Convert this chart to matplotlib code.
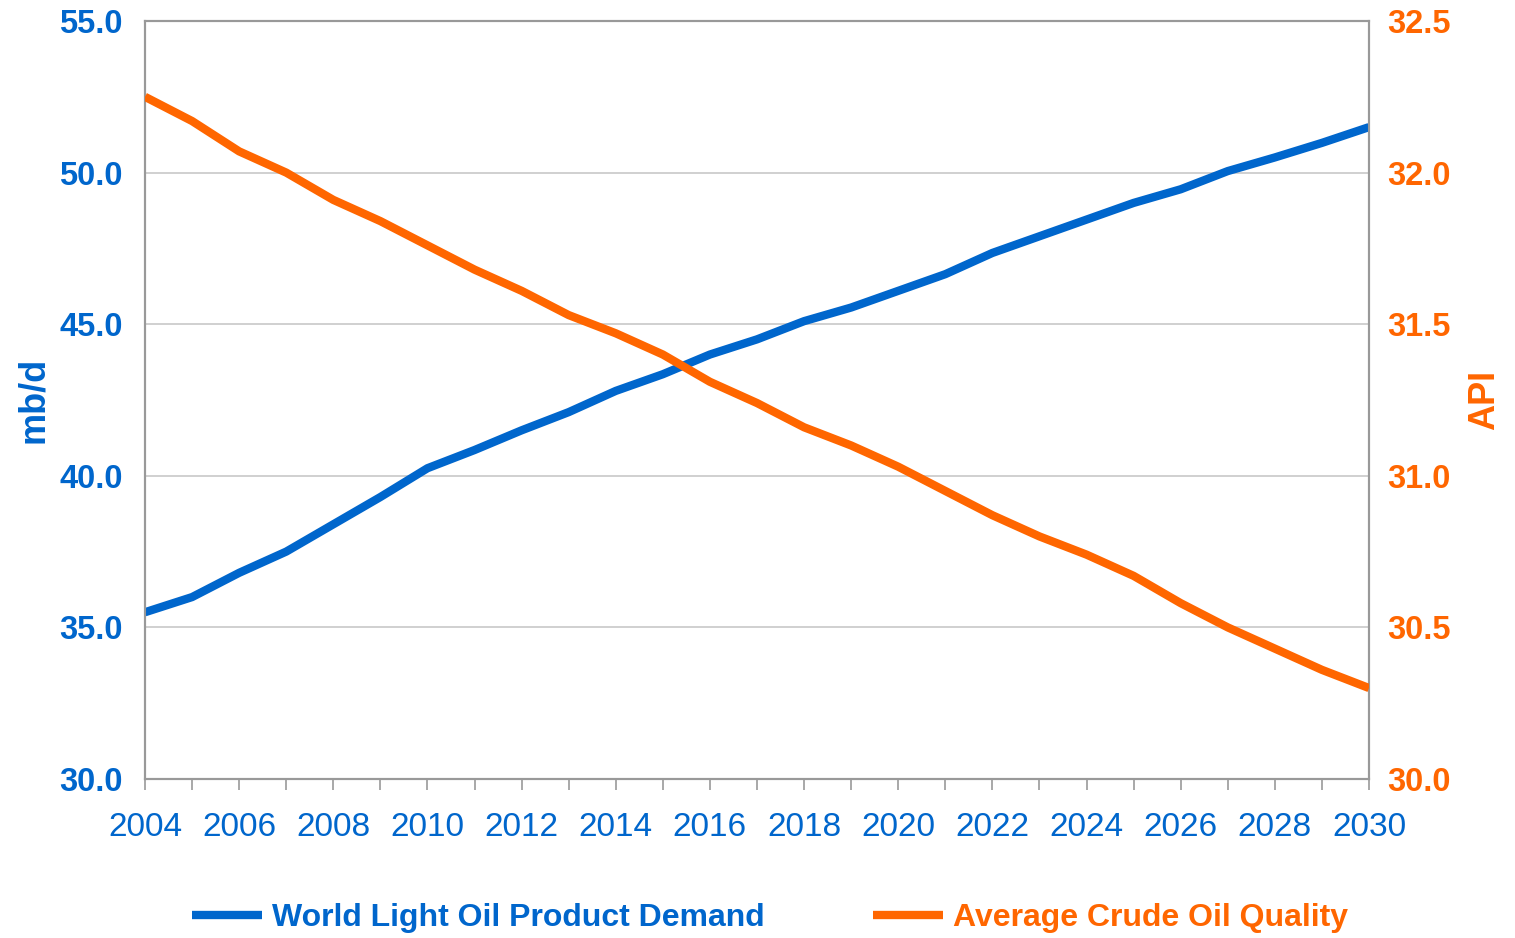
import numpy as np
import matplotlib.pyplot as plt
from matplotlib.ticker import MultipleLocator, FormatStrFormatter

plt.rcParams['font.family'] = ['Liberation Sans', 'DejaVu Sans']

years = list(range(2004, 2031))
demand = [35.5, 36.0, 36.8, 37.5, 38.4, 39.3, 40.25, 40.85, 41.5, 42.1, 42.8, 43.35,
          44.0, 44.5, 45.1, 45.55, 46.1, 46.65, 47.35, 47.9, 48.45, 49.0, 49.45,
          50.05, 50.5, 50.98, 51.5]
api = [32.25, 32.17, 32.07, 32.0, 31.91, 31.84, 31.76, 31.68, 31.61, 31.53, 31.47,
       31.40, 31.31, 31.24, 31.16, 31.10, 31.03, 30.95, 30.87, 30.80, 30.74, 30.67,
       30.58, 30.50, 30.43, 30.36, 30.30]

blue = '#0066CC'
orange = '#FF6600'

fig = plt.figure(figsize=(15.15, 9.38), dpi=100)
ax = fig.add_axes([145 / 1515, 1 - 779 / 938, (1369 - 145) / 1515, (779 - 21) / 938])
ax2 = ax.twinx()

l1, = ax.plot(years, demand, color=blue, lw=6, solid_capstyle='butt', zorder=3)
l2, = ax2.plot(years, api, color=orange, lw=6, solid_capstyle='butt', zorder=3)

ax.set_xlim(2004, 2030)
ax.set_ylim(30, 55)
ax2.set_ylim(30, 32.5)
ax.yaxis.set_major_locator(MultipleLocator(5))
ax2.yaxis.set_major_locator(MultipleLocator(0.5))
ax.yaxis.set_major_formatter(FormatStrFormatter('%.1f'))
ax2.yaxis.set_major_formatter(FormatStrFormatter('%.1f'))
ax.set_xticks(range(2004, 2031, 2))
ax.set_xticks(range(2004, 2031), minor=True)

ax.grid(axis='y', color='#C8C8C8', lw=1.2)
ax.set_axisbelow(True)

for a in (ax, ax2):
    for s in a.spines.values():
        s.set_color('#999999')
        s.set_linewidth(1.5)

ax.tick_params(axis='y', length=0, labelsize=23.5, labelcolor=blue, pad=16)
ax2.tick_params(axis='y', length=0, labelsize=23.5, labelcolor=orange, pad=13)
for t in ax.get_yticklabels():
    t.set_fontweight('bold')
for t in ax2.get_yticklabels():
    t.set_fontweight('bold')
ax.tick_params(axis='x', which='both', length=8, width=1.2, color='#999999',
               labelsize=24, labelcolor=blue, pad=16)

ax.set_ylabel('mb/d', color=blue, fontsize=26, fontweight='bold', labelpad=6)
ax2.set_ylabel('API', color=orange, fontsize=26, fontweight='bold', labelpad=12)

leg = fig.legend([l1, l2], ['World Light Oil Product Demand', 'Average Crude Oil Quality'],
                 loc='center', bbox_to_anchor=(0.508, 1 - 918 / 938), ncol=2, frameon=False,
                 prop={'size': 23, 'weight': 'bold'}, handlelength=2.2, columnspacing=3.4,
                 handletextpad=0.3)
leg.get_texts()[0].set_color(blue)
leg.get_texts()[1].set_color(orange)

fig.savefig('out.png', dpi=100)
